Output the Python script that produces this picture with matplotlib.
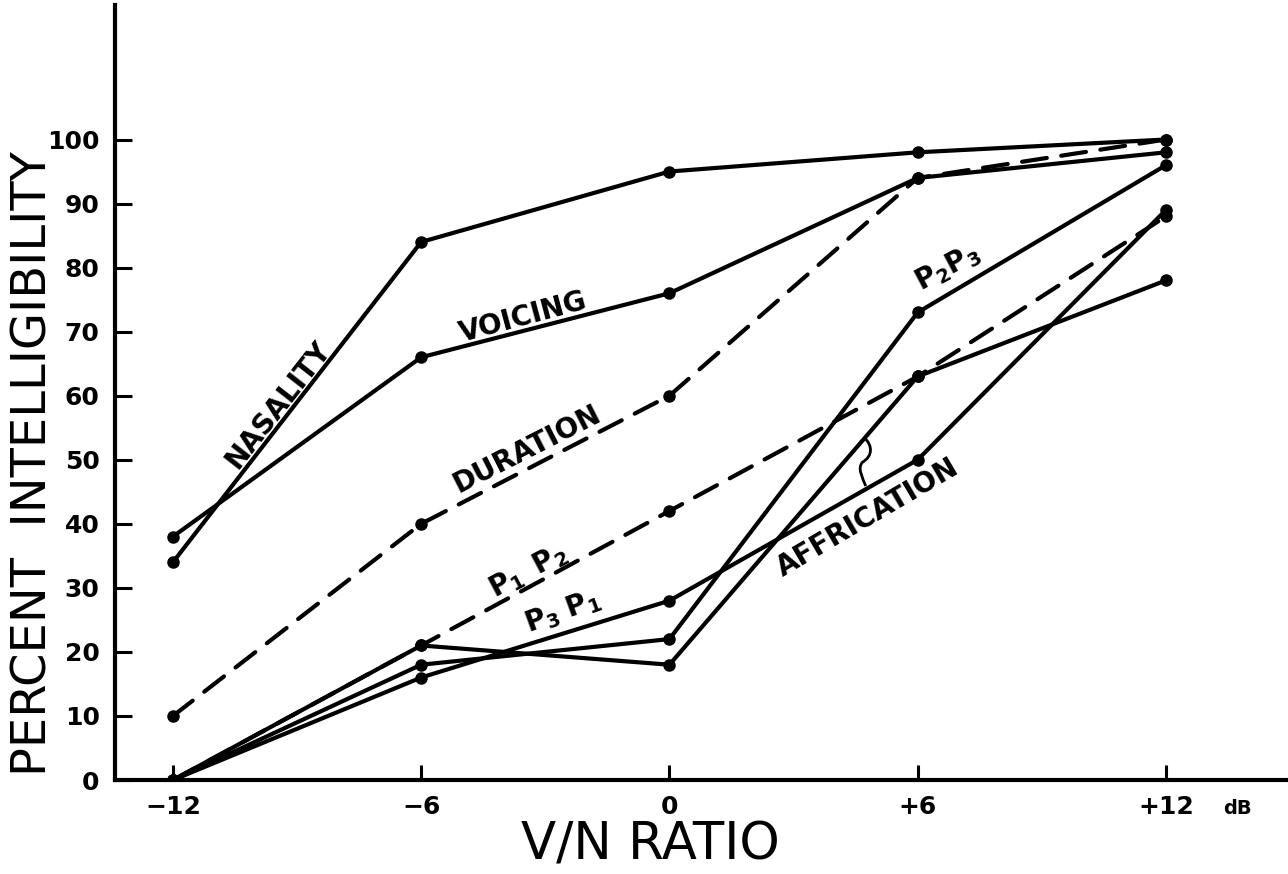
import numpy as np
import matplotlib
matplotlib.use("Agg")
import matplotlib.pyplot as plt
from matplotlib.path import Path
from matplotlib.patches import PathPatch

# V/N ratio (dB) and percent intelligibility of each feature
vn_ratio = [-12, -6, 0, 6, 12]
nasality = [34, 84, 95, 98, 100]
voicing = [38, 66, 76, 94, 98]
duration = [10, 40, 60, 94, 100]
p1_p2 = [0, 21, 42, 63, 88]
p3_p1 = [0, 16, 28, 50, 89]
p2_p3 = [0, 18, 22, 73, 96]
affrication = [0, 21, 18, 63, 78]

x_tick_labels = ["\u221212", "\u22126", "0", "+6", "+12"]
y_ticks = list(range(0, 101, 10))

solid_series = [nasality, voicing, p3_p1, p2_p3, affrication]
dashed_series = [duration, p1_p2]

fig = plt.figure(figsize=(12.88, 8.74), dpi=100)
ax = fig.add_axes([115 / 1288, 94 / 874, 1173 / 1288, 775 / 874])

line_kw = dict(color="black", lw=3, marker="o", ms=8, solid_capstyle="round")
for ys in solid_series:
    ax.plot(vn_ratio, ys, **line_kw)
for ys in dashed_series:
    ax.plot(vn_ratio, ys, linestyle=(0, (6, 3.5)), dash_capstyle="round", **line_kw)

ax.set_xlim(-13.4, 14.95)
ax.set_ylim(0, 121)

for side in ("top", "right"):
    ax.spines[side].set_visible(False)
for side in ("left", "bottom"):
    ax.spines[side].set_linewidth(3)

ax.set_xticks(vn_ratio)
ax.set_xticklabels(x_tick_labels, fontsize=18, fontweight="bold")
ax.set_yticks(y_ticks)
ax.set_yticklabels([str(v) for v in y_ticks], fontsize=18, fontweight="bold")
ax.tick_params(axis="x", direction="in", length=11, width=2.2, pad=11)
ax.tick_params(axis="y", direction="in", length=12, width=2.2, pad=11)

ax.text(13.74, -4.4, "dB", fontsize=14, fontweight="bold", ha="center", va="center",
        clip_on=False)

fig.text(650 / 1288, 1 - 845 / 874, "V/N RATIO", fontsize=37, ha="center", va="center")
fig.text(33 / 1288, 1 - 464 / 874, "PERCENT  INTELLIGIBILITY", fontsize=34.5,
         rotation=90, ha="center", va="center")

label_kw = dict(fontsize=20, fontweight="bold", ha="center", va="center",
                rotation_mode="anchor")
ax.text(-9.46, 58.6, "NASALITY", rotation=52, **label_kw)
ax.text(-3.54, 72.2, "VOICING", rotation=15, **label_kw)
ax.text(-3.45, 51.6, "DURATION", rotation=27, **label_kw)
ax.text(-3.40, 32.6, r"$\mathbf{P_1\;\;P_2}$", rotation=28, **label_kw)
ax.text(-2.57, 26.3, r"$\mathbf{P_3\ P_1}$", rotation=20, **label_kw)
ax.text(6.73, 80.0, r"$\mathbf{P_2 P_3}$", rotation=28, **label_kw)
ax.text(4.80, 40.9, "AFFRICATION", rotation=30.5, **label_kw)

# small wavy leader from the AFFRICATION label up to its curve
x0 = 4.72
y0 = float(np.interp(x0, vn_ratio, affrication))
sx, sy = 1 / 41.4, 1 / 6.4
verts = [(x0, y0),
         (x0 + 8 * sx, y0 - 8 * sy), (x0 + 8 * sx, y0 - 18 * sy), (x0 - 2 * sx, y0 - 24 * sy),
         (x0 - 8 * sx, y0 - 30 * sy), (x0 - 2 * sx, y0 - 40 * sy), (x0 + 1 * sx, y0 - 48 * sy)]
codes = [Path.MOVETO, Path.CURVE4, Path.CURVE4, Path.CURVE4,
         Path.CURVE4, Path.CURVE4, Path.CURVE4]
ax.add_patch(PathPatch(Path(verts, codes), fill=False, lw=2, color="black"))

fig.savefig("out.png", dpi=100)
